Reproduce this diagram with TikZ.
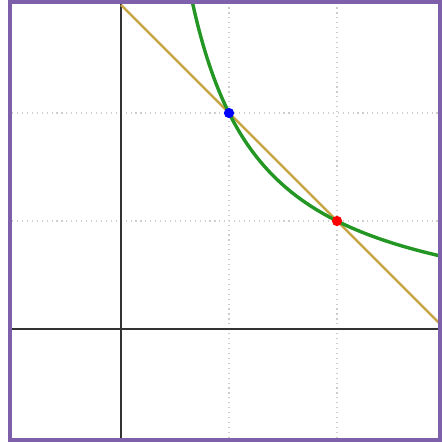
\documentclass[tikz,border=0pt]{standalone}
\usepackage{tikz}
\definecolor{frame}{RGB}{125,95,170}
\definecolor{curvegreen}{RGB}{35,150,35}
\definecolor{linetan}{RGB}{200,165,70}
\definecolor{gridgray}{RGB}{205,205,205}
\tikzset{
  gridline/.style={gridgray, densely dotted, line width=0.3pt},
  axisline/.style={black!80, line width=0.45pt},
  framebox/.style={frame, line width=0.85pt},
  dotpt/.style={circle, inner sep=0pt, minimum size=0.095cm},
}
\begin{document}
\begin{tikzpicture}
\useasboundingbox (-1.1204,-1.0463) rectangle (2.963,3.0463);
\begin{scope}
\clip (-1.028,-1.028) rectangle (2.954,3.028);
\foreach \v in {1,2}{
  \draw[gridline] (\v,-1.1) -- (\v,3.1);
  \draw[gridline] (-1.1,\v) -- (3.1,\v);
}
\draw[axisline] (-1.2,0) -- (3.1,0);
\draw[axisline] (0,-1.1) -- (0,3.1);
\draw[linetan, line width=0.65pt] (0,3) -- (3,0);
\draw[curvegreen, line width=0.9pt, domain=0.64:3, samples=120, smooth] plot (\x,{2/\x});
\end{scope}
\node[dotpt, fill=blue] (b) at (1,2) {};
\node[dotpt, fill=red] (r) at (2,1) {};
\draw[framebox] (-1.028,-1.028) rectangle (2.954,3.028);
\end{tikzpicture}
\end{document}
